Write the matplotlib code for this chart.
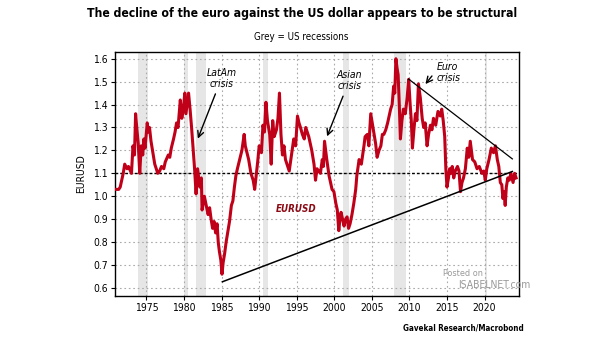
import matplotlib
matplotlib.use("Agg")
from matplotlib import pyplot as plt

# EURUSD (synthetic before 1999)
years = [1971.0, 1971.3, 1971.5, 1971.9, 1972.1, 1972.4, 1972.6, 1973.0, 1973.2, 1973.4,
         1973.55, 1973.7, 1973.9, 1974.1, 1974.3, 1974.5, 1974.65, 1974.8, 1975.1, 1975.25,
         1975.4, 1975.6, 1975.8, 1976.1, 1976.3, 1976.5, 1976.75, 1977.0, 1977.3, 1977.5,
         1977.9, 1978.1, 1978.3, 1978.6, 1978.8, 1979.0, 1979.2, 1979.5, 1979.7, 1979.9,
         1980.1, 1980.25, 1980.4, 1980.6, 1980.8, 1981.0, 1981.2, 1981.4, 1981.6, 1981.8,
         1982.1, 1982.3, 1982.4, 1982.7, 1982.95, 1983.2, 1983.4, 1983.6, 1983.8, 1984.0,
         1984.2, 1984.4, 1984.55, 1984.7, 1984.9, 1985.05, 1985.2, 1985.4, 1985.6, 1985.8,
         1986.05, 1986.3, 1986.5, 1986.7, 1986.9, 1987.1, 1987.4, 1987.7, 1988.0, 1988.15,
         1988.3, 1988.6, 1988.9, 1989.2, 1989.4, 1989.6, 1989.8, 1990.0, 1990.3, 1990.5,
         1990.7, 1990.9, 1991.1, 1991.4, 1991.6, 1991.8, 1992.0, 1992.3, 1992.5, 1992.7,
         1992.9, 1993.1, 1993.3, 1993.5, 1993.8, 1994.0, 1994.3, 1994.6, 1994.85, 1995.1,
         1995.3, 1995.5, 1995.75, 1996.0, 1996.2, 1996.4, 1996.6, 1996.8, 1997.0, 1997.3,
         1997.5, 1997.7, 1997.9, 1998.15, 1998.4, 1998.55, 1998.7, 1998.85, 1999.0, 1999.3,
         1999.5, 1999.7, 1999.95, 2000.2, 2000.4, 2000.6, 2000.75, 2000.9, 2001.1, 2001.3,
         2001.5, 2001.7, 2001.9, 2002.1, 2002.35, 2002.6, 2002.85, 2003.0, 2003.3, 2003.6,
         2003.95, 2004.1, 2004.4, 2004.6, 2004.85, 2005.1, 2005.3, 2005.5, 2005.7, 2005.95,
         2006.2, 2006.4, 2006.6, 2006.85, 2007.1, 2007.3, 2007.5, 2007.7, 2007.9, 2008.05,
         2008.2, 2008.35, 2008.5, 2008.65, 2008.8, 2009.0, 2009.2, 2009.45, 2009.7, 2009.9,
         2010.1, 2010.25, 2010.4, 2010.6, 2010.8, 2011.0, 2011.2, 2011.45, 2011.7, 2011.9,
         2012.1, 2012.35, 2012.55, 2012.8, 2013.0, 2013.2, 2013.5, 2013.8, 2014.1, 2014.3,
         2014.5, 2014.7, 2014.85, 2015.0, 2015.2, 2015.35, 2015.5, 2015.7, 2015.9, 2016.1,
         2016.4, 2016.6, 2016.8, 2017.0, 2017.2, 2017.45, 2017.7, 2017.9, 2018.1, 2018.4,
         2018.7, 2019.0, 2019.3, 2019.65, 2019.9, 2020.1, 2020.3, 2020.6, 2020.9, 2021.2,
         2021.45, 2021.7, 2021.9, 2022.1, 2022.3, 2022.45, 2022.6, 2022.75, 2022.9, 2023.1,
         2023.3, 2023.5, 2023.65, 2023.8, 2024.0, 2024.2]
eurusd = [1.03, 1.03, 1.04, 1.10, 1.14, 1.12, 1.13, 1.10, 1.22, 1.18,
          1.36, 1.30, 1.23, 1.10, 1.22, 1.18, 1.25, 1.21, 1.32, 1.28,
          1.30, 1.24, 1.20, 1.14, 1.12, 1.10, 1.11, 1.13, 1.12, 1.15,
          1.18, 1.17, 1.21, 1.25, 1.28, 1.32, 1.30, 1.42, 1.34, 1.38,
          1.45, 1.36, 1.40, 1.45, 1.38, 1.30, 1.21, 1.12, 1.01, 1.12,
          1.04, 1.08, 0.94, 1.00, 0.96, 0.92, 0.95, 0.90, 0.86, 0.89,
          0.84, 0.88, 0.80, 0.76, 0.72, 0.66, 0.71, 0.75, 0.80, 0.84,
          0.89, 0.96, 0.98, 1.04, 1.09, 1.12, 1.16, 1.20, 1.27, 1.22,
          1.20, 1.16, 1.10, 1.07, 1.03, 1.09, 1.15, 1.22, 1.19, 1.31,
          1.28, 1.41, 1.33, 1.27, 1.14, 1.33, 1.26, 1.29, 1.34, 1.45,
          1.27, 1.18, 1.22, 1.16, 1.13, 1.11, 1.18, 1.25, 1.22, 1.35,
          1.32, 1.30, 1.27, 1.25, 1.30, 1.28, 1.26, 1.23, 1.20, 1.14,
          1.07, 1.12, 1.11, 1.10, 1.16, 1.13, 1.24, 1.20, 1.16, 1.09,
          1.06, 1.03, 1.02, 0.97, 0.94, 0.85, 0.90, 0.93, 0.90, 0.87,
          0.90, 0.91, 0.86, 0.88, 0.92, 0.97, 1.03, 1.09, 1.16, 1.14,
          1.22, 1.26, 1.27, 1.22, 1.36, 1.31, 1.27, 1.23, 1.17, 1.20,
          1.22, 1.27, 1.27, 1.29, 1.32, 1.35, 1.38, 1.40, 1.48, 1.45,
          1.60, 1.56, 1.53, 1.40, 1.25, 1.33, 1.38, 1.36, 1.43, 1.51,
          1.40, 1.33, 1.21, 1.29, 1.36, 1.33, 1.49, 1.43, 1.34, 1.30,
          1.32, 1.22, 1.27, 1.31, 1.29, 1.34, 1.31, 1.37, 1.35, 1.38,
          1.33, 1.26, 1.12, 1.04, 1.08, 1.12, 1.10, 1.13, 1.08, 1.11,
          1.13, 1.11, 1.02, 1.06, 1.08, 1.12, 1.21, 1.17, 1.24, 1.16,
          1.15, 1.12, 1.13, 1.10, 1.11, 1.07, 1.12, 1.16, 1.21, 1.19,
          1.22, 1.16, 1.13, 1.06, 1.05, 0.99, 1.02, 0.96, 1.04, 1.08,
          1.07, 1.10, 1.08, 1.06, 1.10, 1.08]

# US recessions (start, end)
recessions = [(1973.9, 1975.2), (1980.0, 1980.55), (1981.55, 1982.9), (1990.55, 1991.2),
              (2001.2, 2001.9), (2007.95, 2009.5), (2020.1, 2020.35)]

# trend lines (start, end) as (year, value)
support = [(1985.1, 0.627), (2023.7, 1.108)]
resistance = [(2009.9, 1.511), (2023.7, 1.163)]

plt.rcParams['font.family'] = ['DejaVu Sans']
plt.rcParams['font.stretch'] = 'condensed'

fig = plt.figure(figsize=(6.05, 3.41), dpi=100)
ax = fig.add_axes([0.190, 0.132, 0.668, 0.716])

for start, end in recessions:
    ax.axvspan(start, end, color='#E6E6E6', lw=0, zorder=0)

ax.grid(True, color='#AAAAAA', linestyle=(0, (1.5, 2.5)), linewidth=0.8, zorder=1)
ax.axhline(1.1, color='black', linestyle=(0, (2, 1.5)), linewidth=1.0, zorder=2)

ax.plot(years, eurusd, color='#C00018', linewidth=2.2, zorder=3)
ax.plot([p[0] for p in support], [p[1] for p in support], color='black', lw=1.1, zorder=4)
ax.plot([p[0] for p in resistance], [p[1] for p in resistance], color='black', lw=0.9, zorder=4)

ax.set_xlim(1970.8, 2024.6)
ax.set_ylim(0.565, 1.63)
ax.set_xticks(range(1975, 2025, 5))
ax.set_yticks([0.6, 0.7, 0.8, 0.9, 1.0, 1.1, 1.2, 1.3, 1.4, 1.5, 1.6])
ax.set_yticklabels(['0.6', '0.7', '0.8', '0.9', '1.0', '1.1', '1.2', '1.3', '1.4', '1.5', '1.6'])
ax.tick_params(labelsize=7.5, length=3, width=0.8, pad=2)
for s in ax.spines.values():
    s.set_linewidth(1.0)
ax.set_ylabel('EURUSD', fontsize=7.5, labelpad=5)

ax.text(1994.9, 0.945, 'EURUSD', color='#8B0A14', fontsize=7, style='italic', fontweight='bold',
        ha='center', va='center')

arrow = dict(arrowstyle='->', color='black', lw=1.0, mutation_scale=11)
ax.annotate('LatAm\ncrisis', xy=(1981.7, 1.24), xytext=(1985.0, 1.47), fontsize=7.5,
            style='italic', ha='center', va='bottom', arrowprops=arrow, linespacing=1.1)
ax.annotate('Asian\ncrisis', xy=(1998.9, 1.25), xytext=(2002.0, 1.46), fontsize=7.5,
            style='italic', ha='center', va='bottom', arrowprops=arrow, linespacing=1.1)
ax.annotate('Euro\ncrisis', xy=(2011.9, 1.48), xytext=(2013.6, 1.54), fontsize=7.5,
            style='italic', ha='left', va='center', linespacing=1.1,
            arrowprops=dict(arrow, relpos=(0.0, 0.6)))

fig.text(0.499, 0.960, 'The decline of the euro against the US dollar appears to be structural',
         ha='center', va='center', fontsize=8.7, fontweight='bold')
fig.text(0.498, 0.892, 'Grey = US recessions', ha='center', va='center', fontsize=7)
fig.text(0.865, 0.038, 'Gavekal Research/Macrobond', ha='right', va='center',
         fontsize=5.8, fontweight='bold')
fig.text(0.732, 0.199, 'Posted on', color='#999999', fontsize=6.5, ha='left', va='center')
fig.text(0.758, 0.164, 'ISABELNET.com', color='#999999', fontsize=7.5, ha='left', va='center')

fig.savefig('out.png', dpi=100)
